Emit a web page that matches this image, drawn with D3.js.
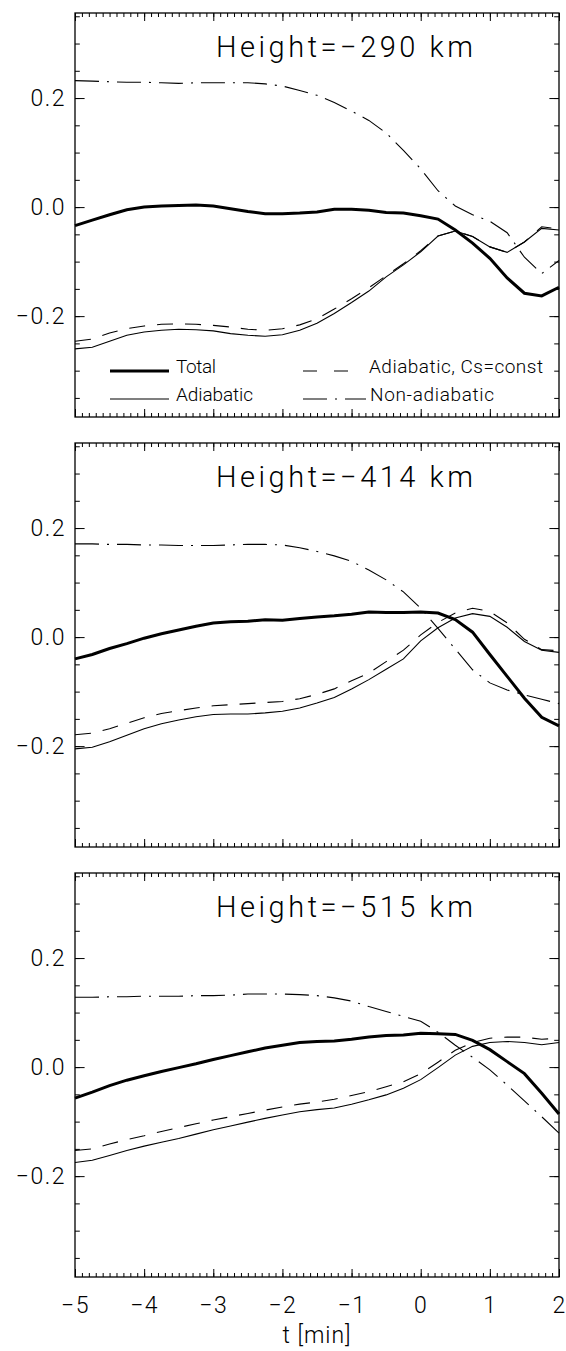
<!DOCTYPE html>
<html>
<head>
<meta charset="utf-8">
<script src="https://cdnjs.cloudflare.com/ajax/libs/d3/7.8.5/d3.min.js"></script>
<style>
body{margin:0;background:#fff;}
svg text{font-family:Roboto,"Liberation Sans",sans-serif;font-weight:300;fill:#000;}
</style>
</head>
<body>
<div id="chart"></div>
<script>
// time axis [min], sampled every 0.25 min
var times = [-5,-4.75,-4.5,-4.25,-4,-3.75,-3.5,-3.25,-3,-2.75,-2.5,-2.25,-2,-1.75,-1.5,-1.25,-1,-0.75,-0.5,-0.25,0,0.25,0.5,0.75,1,1.25,1.5,1.75,2];

var heights = [-290, -414, -515];

// Height = -290 km
var total290 = [-0.034,-0.024,-0.014,-0.005,0.000,0.002,0.003,0.004,0.002,-0.003,-0.008,-0.012,-0.012,-0.011,-0.009,-0.004,-0.004,-0.006,-0.010,-0.011,-0.016,-0.022,-0.042,-0.066,-0.094,-0.130,-0.158,-0.163,-0.147];
var adiab290 = [-0.260,-0.257,-0.246,-0.235,-0.229,-0.226,-0.224,-0.225,-0.227,-0.232,-0.235,-0.237,-0.234,-0.226,-0.213,-0.195,-0.175,-0.154,-0.128,-0.106,-0.082,-0.053,-0.044,-0.054,-0.073,-0.083,-0.064,-0.039,-0.042];
var cs290 = [-0.246,-0.242,-0.231,-0.223,-0.218,-0.215,-0.214,-0.215,-0.217,-0.220,-0.224,-0.226,-0.223,-0.216,-0.205,-0.187,-0.168,-0.148,-0.126,-0.104,-0.080,-0.053,-0.044,-0.054,-0.073,-0.083,-0.064,-0.036,-0.040];
var non290 = [0.232,0.231,0.230,0.229,0.229,0.228,0.227,0.228,0.228,0.228,0.228,0.226,0.222,0.214,0.205,0.192,0.176,0.159,0.136,0.104,0.070,0.030,0.002,-0.014,-0.026,-0.047,-0.092,-0.122,-0.098];

// Height = -414 km
var total414 = [-0.040,-0.032,-0.021,-0.012,-0.002,0.006,0.013,0.020,0.026,0.028,0.029,0.032,0.031,0.034,0.037,0.039,0.042,0.046,0.045,0.045,0.046,0.044,0.032,0.009,-0.032,-0.072,-0.112,-0.147,-0.163];
var adiab414 = [-0.205,-0.202,-0.192,-0.180,-0.168,-0.159,-0.152,-0.146,-0.142,-0.141,-0.141,-0.139,-0.136,-0.130,-0.121,-0.111,-0.095,-0.078,-0.059,-0.040,-0.007,0.017,0.035,0.043,0.038,0.018,-0.008,-0.024,-0.028];
var cs414 = [-0.179,-0.176,-0.168,-0.158,-0.148,-0.140,-0.135,-0.130,-0.126,-0.124,-0.122,-0.120,-0.118,-0.113,-0.105,-0.095,-0.080,-0.066,-0.045,-0.024,0.004,0.027,0.044,0.053,0.047,0.026,-0.004,-0.023,-0.025];
var non414 = [0.171,0.171,0.170,0.170,0.169,0.169,0.168,0.168,0.168,0.169,0.170,0.170,0.169,0.164,0.157,0.149,0.139,0.123,0.105,0.083,0.053,0.016,-0.022,-0.060,-0.084,-0.097,-0.106,-0.114,-0.122];

// Height = -515 km
var total515 = [-0.057,-0.046,-0.034,-0.024,-0.016,-0.008,-0.001,0.006,0.014,0.021,0.028,0.035,0.040,0.045,0.047,0.048,0.051,0.055,0.058,0.059,0.062,0.061,0.060,0.049,0.032,0.010,-0.012,-0.048,-0.086];
var adiab515 = [-0.175,-0.171,-0.162,-0.153,-0.145,-0.138,-0.131,-0.123,-0.115,-0.108,-0.101,-0.094,-0.088,-0.082,-0.078,-0.075,-0.068,-0.060,-0.051,-0.039,-0.023,-0.001,0.022,0.038,0.045,0.047,0.045,0.041,0.045];
var cs515 = [-0.153,-0.150,-0.141,-0.133,-0.126,-0.118,-0.111,-0.104,-0.097,-0.091,-0.085,-0.079,-0.073,-0.068,-0.064,-0.059,-0.052,-0.045,-0.036,-0.027,-0.012,0.009,0.031,0.045,0.053,0.055,0.055,0.051,0.053];
var non515 = [0.128,0.128,0.129,0.129,0.130,0.130,0.130,0.131,0.131,0.132,0.134,0.134,0.134,0.133,0.131,0.127,0.121,0.111,0.102,0.093,0.084,0.064,0.040,0.018,-0.005,-0.033,-0.062,-0.091,-0.121];

var xTickLabels = [-5,-4,-3,-2,-1,0,1,2];
var yTickLabels = [-0.2,0,0.2];
var legendNames = ["Total","Adiabatic","Adiabatic, Cs=const","Non-adiabatic"];

function init(){
	var w = 566;
	var h = 1351;
	var left = 75, pw = 484, ph = 404;
	var top0 = 13, step = 430;

	var panels = [
		{height: heights[0], series: [total290, adiab290, cs290, non290]},
		{height: heights[1], series: [total414, adiab414, cs414, non414]},
		{height: heights[2], series: [total515, adiab515, cs515, non515]}
	];

	// line styles: total, adiabatic, Cs=const, non-adiabatic
	var styles = [
		{width: 3, dash: null},
		{width: 1.1, dash: null},
		{width: 1.1, dash: "16,12"},
		{width: 1.1, dash: "24,8,2,8"}
	];

	var x = d3.scaleLinear().domain([-5, 2]).range([0, pw]);
	var y = d3.scaleLinear().domain([-0.385, 0.356]).range([ph, 0]);

	var line = d3.line()
		.x(function(d, i){ return x(times[i]); })
		.y(function(d){ return y(d); });

	var svg = d3.select("#chart")
				.append("svg")
				.attr("width", w)
				.attr("height", h);

	function styleAxis(g){
		g.select(".domain").remove();
		g.selectAll("line").attr("stroke", "#000").attr("stroke-width", 1);
		g.attr("font-family", null).attr("font-size", 23);
		g.selectAll("text").attr("letter-spacing", 1.5);
	}

	panels.forEach(function(p, k){
		var g = svg.append("g")
			.attr("transform", "translate(" + left + "," + (top0 + k * step) + ")");
		var last = (k == panels.length - 1);

		// minor ticks
		g.append("g").attr("transform", "translate(0," + ph + ")")
			.call(d3.axisBottom(x).tickValues(x.ticks(70)).tickSize(-4).tickFormat(""))
			.call(styleAxis);
		g.append("g")
			.call(d3.axisTop(x).tickValues(x.ticks(70)).tickSize(-4).tickFormat(""))
			.call(styleAxis);
		g.append("g")
			.call(d3.axisLeft(y).tickValues(y.ticks(15)).tickSize(-4.8).tickFormat(""))
			.call(styleAxis);
		g.append("g").attr("transform", "translate(" + pw + ",0)")
			.call(d3.axisRight(y).tickValues(y.ticks(15)).tickSize(-4.8).tickFormat(""))
			.call(styleAxis);

		// major ticks
		g.append("g").attr("transform", "translate(0," + ph + ")")
			.call(d3.axisBottom(x).tickValues(xTickLabels).tickSize(-8).tickPadding(20)
				.tickFormat(last ? d3.format("d") : ""))
			.call(styleAxis);
		g.append("g")
			.call(d3.axisTop(x).tickValues(xTickLabels).tickSize(-8).tickFormat(""))
			.call(styleAxis);
		g.append("g")
			.call(d3.axisLeft(y).tickValues(yTickLabels).tickSize(-9.6).tickPadding(9)
				.tickFormat(d3.format(".1f")))
			.call(styleAxis);
		g.append("g").attr("transform", "translate(" + pw + ",0)")
			.call(d3.axisRight(y).tickValues(yTickLabels).tickSize(-9.6).tickFormat(""))
			.call(styleAxis);

		// frame
		g.append("rect")
			.attr("width", pw)
			.attr("height", ph)
			.attr("fill", "none")
			.attr("stroke", "#000")
			.attr("stroke-width", 1.3);

		// curves
		g.selectAll("path.curve")
			.data(p.series)
			.enter()
			.append("path")
			.attr("class", "curve")
			.attr("d", line)
			.attr("fill", "none")
			.attr("stroke", "#000")
			.attr("stroke-width", function(d, i){ return styles[i].width; })
			.attr("stroke-dasharray", function(d, i){ return styles[i].dash; });

		// title
		g.append("text")
			.attr("x", 141)
			.attr("y", 44)
			.attr("font-size", 29)
			.attr("textLength", 257)
			.attr("lengthAdjust", "spacing")
			.text("Height=" + d3.format("d")(p.height) + " km");
	});

	// legend, first panel only
	var lg = svg.append("g").attr("transform", "translate(" + left + "," + top0 + ")");
	var legendPos = [
		{x1: 35, x2: 94, y: 358, tx: 101, len: 40},
		{x1: 35, x2: 94, y: 386, tx: 101, len: 77},
		{x1: 228, x2: 273, y: 358, tx: 294, len: 174},
		{x1: 228, x2: 291, y: 386, tx: 295, len: 124}
	];
	legendNames.forEach(function(name, i){
		var lp = legendPos[i];
		lg.append("line")
			.attr("x1", lp.x1).attr("x2", lp.x2)
			.attr("y1", lp.y).attr("y2", lp.y)
			.attr("stroke", "#000")
			.attr("stroke-width", styles[i].width)
			.attr("stroke-dasharray", i == 2 ? "14,17" : styles[i].dash);
		lg.append("text")
			.attr("x", lp.tx)
			.attr("y", lp.y + 2)
			.attr("font-size", 19)
			.attr("textLength", lp.len)
			.attr("lengthAdjust", "spacing")
			.text(name);
	});

	// x axis title
	svg.append("text")
		.attr("x", left + pw / 2)
		.attr("y", 1343)
		.attr("text-anchor", "middle")
		.attr("font-size", 23)
		.attr("letter-spacing", 1)
		.text("t\u00a0[min]");
}
window.onload = init;
</script>
</body>
</html>
